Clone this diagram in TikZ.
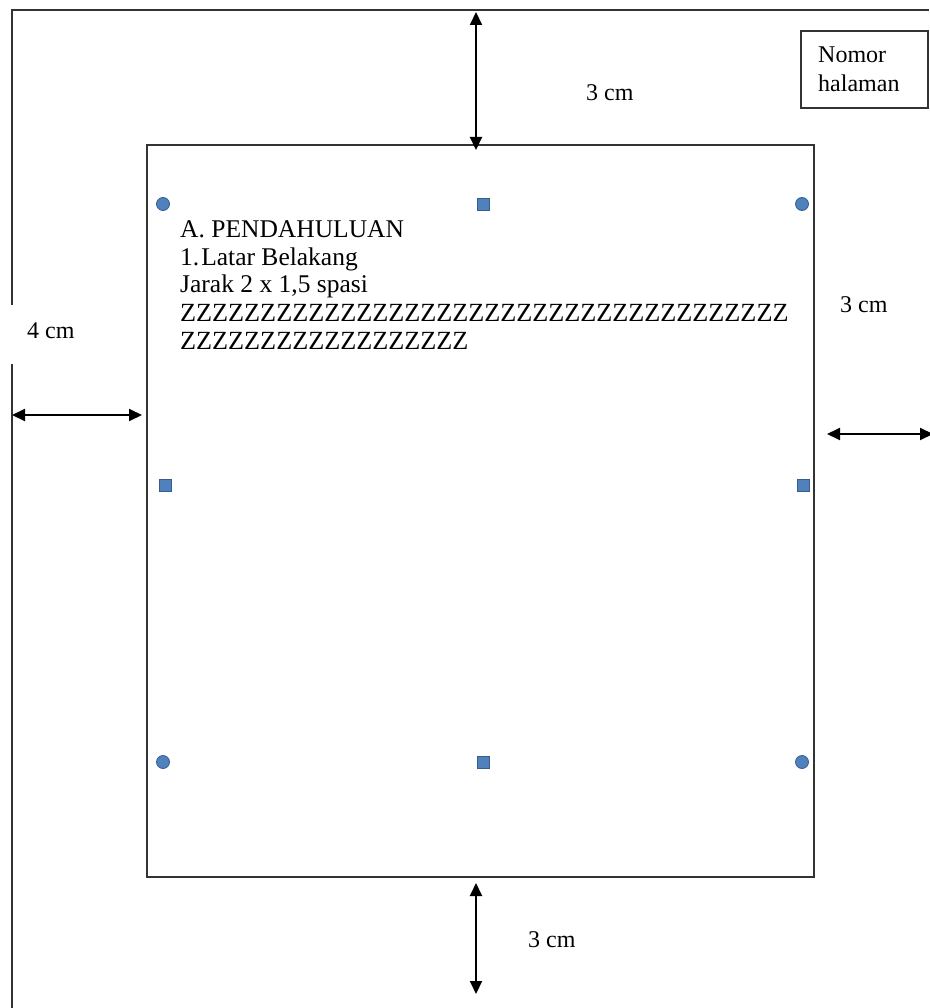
\documentclass[tikz,border=0pt]{standalone}
\usepackage{fontspec}
\setmainfont{Liberation Serif}
\usetikzlibrary{arrows.meta}
\definecolor{frame}{HTML}{333333}
\definecolor{hfill}{HTML}{4F81BD}
\definecolor{hdraw}{HTML}{385D8A}
\begin{document}
\begin{tikzpicture}[x=1pt,y=-1pt,
  frameline/.style={draw=frame,line width=2.4pt},
  dimarrow/.style={draw=black,line width=2pt,{Triangle[length=13pt,width=12pt]}-{Triangle[length=13pt,width=12pt]}},
  lbl/.style={anchor=base west,inner sep=0pt,font=\fontsize{24}{28}\selectfont},
  body/.style={anchor=base west,inner sep=0pt,font=\fontsize{25.5}{28}\selectfont},
  zbody/.style={anchor=base west,inner sep=0pt,font=\fontsize{26.2}{28}\selectfont},
  hcirc/.style={circle,fill=hfill,draw=hdraw,line width=0.8pt,minimum size=13pt,inner sep=0pt},
  hsq/.style={rectangle,fill=hfill,draw=hdraw,line width=0.8pt,minimum size=12pt,inner sep=0pt}]
\useasboundingbox (0,0) rectangle (929,1008);
\fill[white] (0,0) rectangle (929,1008);
% outer page frame
\coordinate (oTR) at (929,10);
\coordinate (oTL) at (12,10);
\coordinate (oGapT) at (12,305);
\coordinate (oGapB) at (12,364);
\coordinate (oBL) at (12,1008);
\draw[frameline] (oGapT) -- (oTL) -- (oTR);
\draw[frameline] (oGapB) -- (oBL);
% inner text frame
\node[frameline,rectangle,minimum width=667pt,minimum height=732pt,inner sep=0pt,anchor=north west] (inner) at (146,144) {};
% page number box
\coordinate (nTL) at (801,31);
\coordinate (nBR) at (928,108);
\draw[frameline] (nTL) rectangle (nBR);
\node[lbl] (nomor) at (818,63) {Nomor};
\node[lbl] (halaman) at (818,92) {halaman};
% dimension arrows
\coordinate (tA) at (476,12);
\coordinate (tB) at (476,150);
\draw[dimarrow] (tA) -- (tB);
\node[lbl] (ltop) at (586,101) {3 cm};
\coordinate (bA) at (476,883);
\coordinate (bB) at (476,994);
\draw[dimarrow] (bA) -- (bB);
\node[lbl] (lbot) at (528,947) {3 cm};
\coordinate (lA) at (12,415);
\coordinate (lB) at (142,415);
\draw[dimarrow] (lA) -- (lB);
\node[lbl] (lleft) at (27,338) {4 cm};
\coordinate (rA) at (827,434);
\coordinate (rB) at (933,434);
\draw[dimarrow] (rA) -- (rB);
\node[lbl] (lright) at (840,312) {3 cm};
% body text
\node[body] (t1) at (180,237) {A. PENDAHULUAN};
\node[body] (t2) at (180,265) {1.\hspace{2pt}Latar Belakang};
\node[body] (t3) at (180,292) {Jarak 2 x 1,5 spasi};
\node[zbody] (t4) at (180,321) {ZZZZZZZZZZZZZZZZZZZZZZZZZZZZZZZZZZZZZZ};
\node[zbody] (t5) at (180,349) {ZZZZZZZZZZZZZZZZZZ};
% handles
\node[hcirc] (h1) at (163,204) {};
\node[hsq] (h2) at (483,204) {};
\node[hcirc] (h3) at (802,204) {};
\node[hsq] (h4) at (165,485) {};
\node[hsq] (h5) at (803,485) {};
\node[hcirc] (h6) at (163,762) {};
\node[hsq] (h7) at (483,762) {};
\node[hcirc] (h8) at (802,762) {};
\end{tikzpicture}
\end{document}
